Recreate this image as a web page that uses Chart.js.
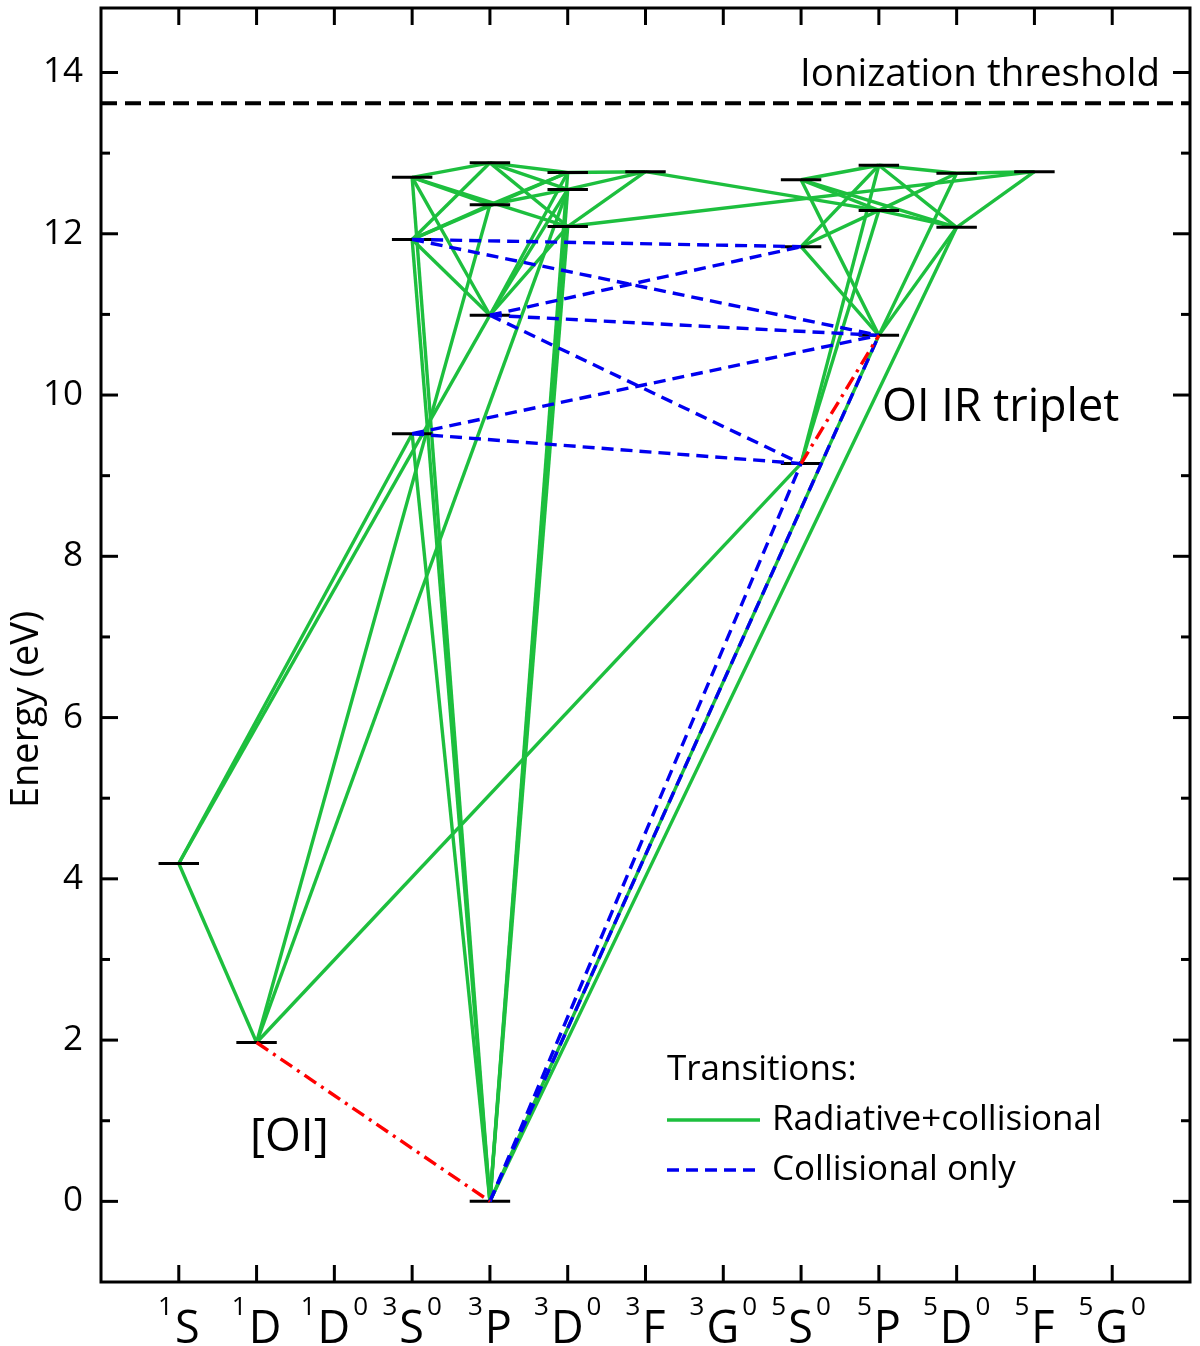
<!DOCTYPE html>
<html>
<head>
<meta charset="utf-8">
<script src="https://cdn.jsdelivr.net/npm/chart.js@4.4.1/dist/chart.umd.min.js"></script>
<style>
  html, body { margin: 0; padding: 0; background: #fff; }
  #wrap { width: 1200px; height: 1346px; }
</style>
</head>
<body>
<div id="wrap"><canvas id="grotrian"></canvas></div>
<script>
// term columns on the x axis
const termMult   = [1, 1, 1, 3, 3, 3, 3, 3, 5, 5, 5, 5, 5];
const termL      = ['S', 'D', 'D', 'S', 'P', 'D', 'F', 'G', 'S', 'P', 'D', 'F', 'G'];
const termParity = ['', '', '0', '0', '', '0', '', '0', '0', '', '0', '', '0'];

// energy levels (column index, eV)
const levelKey = ['1S', '1D', '3P0', '3S9', '3S11', '3S12', '3P10', '3P12a', '3P12b',
                  '3D12a', '3D12b', '3D12c', '3F', '5S9', '5S11', '5S12',
                  '5P10', '5P12a', '5P12b', '5D12a', '5D12b', '5F'];
const levelCol = [0, 1, 4, 3, 3, 3, 4, 4, 4, 5, 5, 5, 6, 8, 8, 8, 9, 9, 9, 10, 10, 11];
const levelE   = [4.19, 1.97, 0, 9.52, 11.93, 12.70, 10.99, 12.36, 12.88,
                  12.09, 12.55, 12.76, 12.77, 9.15, 11.84, 12.67,
                  10.74, 12.29, 12.85, 12.08, 12.75, 12.77];

// transitions
const radiative = [
  ['1S', '1D'], ['1S', '3S9'], ['1S', '3P10'], ['1D', '3P12a'], ['1D', '3D12b'], ['1D', '5S9'],
  ['3P0', '3S9'], ['3P0', '3S11'], ['3P0', '3S12'], ['3P0', '3D12a'], ['3P0', '3D12b'], ['3P0', '3D12c'],
  ['3P0', '5P10'], ['3P0', '5D12a'],
  ['3S12', '3P12b'], ['3S12', '3P12a'], ['3S12', '3P10'], ['3S12', '3D12a'],
  ['3S11', '3P12b'], ['3S11', '3P12a'], ['3S11', '3P10'], ['3S11', '3D12c'],
  ['3P12b', '3D12c'], ['3P12b', '3D12b'], ['3P12b', '3D12a'],
  ['3P12a', '3D12c'], ['3P12a', '3D12b'],
  ['3P10', '3D12a'], ['3P10', '3D12b'], ['3P10', '3D12c'],
  ['3D12c', '3F'], ['3D12b', '3F'], ['3D12a', '3F'],
  ['3F', '5P12a'], ['3D12a', '5F'],
  ['5S12', '5P12b'], ['5S12', '5P12a'], ['5S12', '5P10'], ['5S12', '5D12a'],
  ['5S11', '5P12b'], ['5S11', '5P12a'], ['5S11', '5P10'],
  ['5S9', '5P12b'], ['5S9', '5P12a'],
  ['5P12b', '5D12b'], ['5P12b', '5D12a'],
  ['5P12a', '5D12b'], ['5P12a', '5D12a'],
  ['5P10', '5D12b'], ['5P10', '5D12a'],
  ['5D12a', '5F'], ['5D12b', '5F']
];
const collisional = [
  ['3S11', '5S11'], ['3S11', '5P10'], ['3P10', '5S11'], ['3P10', '5P10'], ['3P10', '5S9'],
  ['3S9', '5P10'], ['3S9', '5S9'], ['3P0', '5S9'], ['3P0', '5P10']
];
const forbidden = [['1D', '3P0'], ['5S9', '5P10']];

const ionization = 13.62;
const energyTicks = [0, 2, 4, 6, 8, 10, 12, 14];

const FONT = 'Open Sans';
const GREEN = '#1dbf3e';
const BLUE = '#0000f0';
const RED = '#ff0000';

function pt(key) {
  const i = levelKey.indexOf(key);
  return { x: levelCol[i], y: levelE[i] };
}
function pairSet(pair, color, dash, order) {
  return {
    data: [pt(pair[0]), pt(pair[1])],
    showLine: true, borderColor: color, borderWidth: 3.4, borderDash: dash,
    pointRadius: 0, order: order
  };
}

const datasets = [];
forbidden.forEach(p => datasets.push(pairSet(p, RED, [14, 6, 3, 6], 0)));
collisional.forEach(p => datasets.push(pairSet(p, BLUE, [12, 7], 1)));
levelKey.forEach((k, i) => datasets.push({
  data: [{ x: levelCol[i] - 0.26, y: levelE[i] }, { x: levelCol[i] + 0.26, y: levelE[i] }],
  showLine: true, borderColor: '#000', borderWidth: 3, pointRadius: 0, order: 2
}));
datasets.push({
  data: [{ x: -1, y: ionization }, { x: 13, y: ionization }],
  showLine: true, borderColor: '#000', borderWidth: 4, borderDash: [16, 8], pointRadius: 0, order: 2
});
radiative.forEach(p => datasets.push(pairSet(p, GREEN, [], 3)));

function seg(ctx, x1, y1, x2, y2) {
  ctx.beginPath(); ctx.moveTo(x1, y1); ctx.lineTo(x2, y2); ctx.stroke();
}

const decor = {
  id: 'decor',
  afterDraw(chart) {
    const ctx = chart.ctx;
    const { left, right, top, bottom } = chart.chartArea;
    const xs = chart.scales.x, ys = chart.scales.y;
    ctx.save();
    ctx.strokeStyle = '#000';
    ctx.fillStyle = '#000';
    ctx.lineWidth = 3;
    ctx.setLineDash([]);
    ctx.strokeRect(left, top, right - left, bottom - top);

    // y ticks (inside, both sides)
    energyTicks.forEach(v => {
      let py = ys.getPixelForValue(v);
      seg(ctx, left, py, left + 17, py);
      seg(ctx, right, py, right - 17, py);
      py = ys.getPixelForValue(v + 1);
      if (py > top + 2) {
        seg(ctx, left, py, left + 9, py);
        seg(ctx, right, py, right - 9, py);
      }
    });
    // x ticks and term labels
    termL.forEach((L, i) => {
      const px = xs.getPixelForValue(i);
      seg(ctx, px, bottom, px, bottom - 17);
      seg(ctx, px, top, px, top + 17);
      ctx.font = '26px "' + FONT + '"';
      const wm = ctx.measureText(String(termMult[i])).width;
      const wp = termParity[i] ? ctx.measureText(termParity[i]).width : 0;
      ctx.font = '45px "' + FONT + '"';
      const wl = ctx.measureText(L).width;
      const total = wm + 2 + wl + (wp ? 3 + wp : 0);
      let cx = px - total / 2;
      ctx.textAlign = 'left';
      ctx.textBaseline = 'alphabetic';
      ctx.font = '26px "' + FONT + '"';
      ctx.fillText(String(termMult[i]), cx, bottom + 33);
      cx += wm + 2;
      ctx.font = '45px "' + FONT + '"';
      ctx.fillText(L, cx, bottom + 61);
      cx += wl + 3;
      if (wp) {
        ctx.font = '26px "' + FONT + '"';
        ctx.fillText(termParity[i], cx, bottom + 33);
      }
    });

    // y axis title
    ctx.save();
    ctx.translate(27, ys.getPixelForValue(6.1));
    ctx.rotate(-Math.PI / 2);
    ctx.textAlign = 'center';
    ctx.textBaseline = 'middle';
    ctx.font = '38px "' + FONT + '"';
    ctx.fillText('Energy (eV)', 0, 0);
    ctx.restore();

    // annotations
    ctx.textBaseline = 'middle';
    ctx.textAlign = 'right';
    ctx.font = '38.5px "' + FONT + '"';
    ctx.fillText('Ionization threshold', 1160, 75);
    ctx.textAlign = 'left';
    ctx.font = '45px "' + FONT + '"';
    ctx.fillText('OI IR triplet', 882, 408);
    ctx.font = '46px "' + FONT + '"';
    ctx.fillText('[OI]', 250, 1138);

    // legend
    ctx.font = '35px "' + FONT + '"';
    ctx.fillText('Transitions:', 667, 1070);
    ctx.fillText('Radiative+collisional', 772, 1120);
    ctx.fillText('Collisional only', 772, 1170);
    ctx.lineWidth = 3.4;
    ctx.strokeStyle = GREEN;
    seg(ctx, 667, 1120, 760, 1120);
    ctx.strokeStyle = BLUE;
    ctx.setLineDash([12, 7]);
    seg(ctx, 667, 1170, 760, 1170);
    ctx.restore();
  }
};

new Chart(document.getElementById('grotrian'), {
  type: 'scatter',
  data: { datasets: datasets },
  options: {
    responsive: true,
    maintainAspectRatio: false,
    animation: false,
    layout: { padding: { top: 8, right: 10, left: 0, bottom: 0 } },
    plugins: { legend: { display: false }, tooltip: { enabled: false } },
    scales: {
      x: {
        type: 'linear', min: -1, max: 13,
        grid: { display: false, drawTicks: false }, border: { display: false },
        ticks: { display: false },
        afterFit: s => { s.height = 64; s.paddingLeft = 0; s.paddingRight = 0; }
      },
      y: {
        type: 'linear', min: -1, max: 14.8,
        grid: { display: false, drawTicks: false }, border: { display: false },
        ticks: {
          stepSize: 2, padding: 18, color: '#000',
          font: { family: FONT, size: 35 },
          callback: v => energyTicks.includes(v) ? v : null
        },
        afterFit: s => { s.width = 101; s.paddingTop = 0; s.paddingBottom = 0; }
      }
    }
  },
  plugins: [decor]
});
</script>
</body>
</html>
